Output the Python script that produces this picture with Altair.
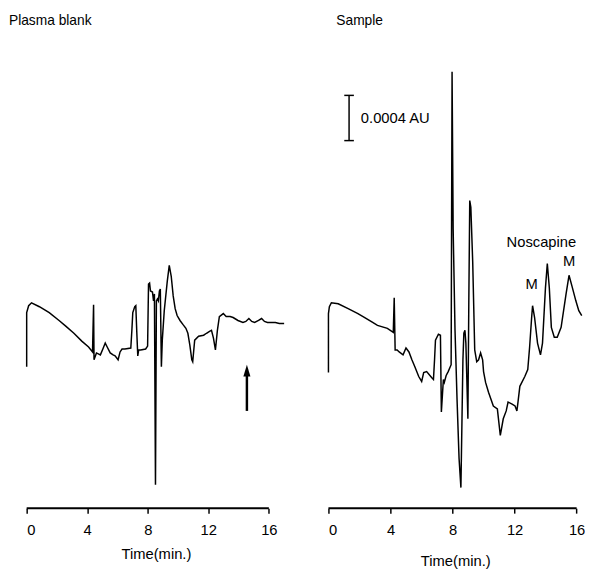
import altair as alt
import pandas as pd

FONT = "Liberation Sans"

# ---- Plasma blank chromatogram (time in min, detector response in arbitrary units) ----
blank_time = [0.00, 0.00, 0.13, 0.32, 0.84, 1.49, 2.14, 2.60, 3.12, 3.64, 4.09, 4.35, 4.42, 4.45,
              4.61, 4.87, 5.06, 5.19, 5.32, 5.52, 5.71, 5.84, 6.04, 6.17, 6.30, 6.49, 6.88, 6.95,
              7.01, 7.14, 7.21, 7.27, 7.34, 7.40, 7.53, 7.86, 7.99, 8.05, 8.12, 8.18, 8.31, 8.38,
              8.44, 8.51, 8.57, 8.64, 8.70, 8.77, 8.83, 8.90, 8.96, 9.09, 9.29, 9.42, 9.55, 9.68,
              9.81, 9.94, 10.13, 10.32, 10.52, 10.65, 10.78, 10.91, 10.97, 11.10, 11.36, 11.69,
              11.88, 12.08, 12.21, 12.34, 12.47, 12.60, 12.73, 12.99, 13.18, 13.44, 13.64, 13.96,
              14.29, 14.48, 14.68, 14.87, 15.06, 15.32, 15.52, 15.71, 15.91, 16.17, 16.43, 16.69,
              17.01]
blank_signal = [144, 199, 206, 209, 205, 199, 191, 185, 178, 170, 164, 159, 207, 151,
                158, 156, 163, 168, 164, 158, 156, 155, 151, 159, 162, 162, 163, 181,
                199, 205, 206, 181, 155, 161, 161, 162, 165, 228, 229, 221, 220, 211,
                218, 24, 211, 213, 211, 221, 223, 144, 171, 201, 231, 247, 236, 216,
                203, 196, 191, 187, 183, 178, 166, 151, 149, 171, 175, 176,
                178, 180, 181, 173, 161, 181, 195, 198, 195, 195, 194, 191,
                189, 190, 193, 190, 189, 191, 193, 190, 189, 189, 189, 188,
                188]

# ---- Sample chromatogram ----
sample_time = [0.00, 0.00, 0.06, 0.19, 0.63, 1.27, 1.90, 2.34, 2.85, 3.16, 3.80, 4.18, 4.24, 4.30,
               4.43, 4.56, 4.81, 5.00, 5.19, 5.38, 5.57, 5.82, 6.01, 6.14, 6.33, 6.65, 6.77, 6.84,
               6.90, 7.09, 7.22, 7.28, 7.41, 7.47, 7.59, 7.72, 7.91, 7.97, 8.04, 8.16, 8.29, 8.42,
               8.54, 8.61, 8.67, 8.73, 8.80, 8.86, 8.99, 9.05, 9.11, 9.18, 9.30, 9.43, 9.56, 9.68,
               9.81, 9.94, 10.00, 10.13, 10.32, 10.63, 10.89, 11.08, 11.27, 11.46, 11.58, 11.84,
               12.03, 12.15, 12.22, 12.34, 12.66, 12.85, 12.97, 13.10, 13.16, 13.29, 13.48, 13.67,
               13.80, 13.99, 14.11, 14.24, 14.37, 14.56, 14.75, 15.00, 15.32, 15.51, 15.70, 15.95,
               16.14, 16.33]
sample_signal = [138, 198, 205, 209, 208, 203, 198, 194, 189, 186, 183, 179, 214, 161,
                 161, 159, 156, 163, 159, 151, 144, 134, 129, 138, 139, 133, 131, 151,
                 171, 177, 176, 98, 131, 128, 135, 139, 146, 444, 284, 181, 111, 51,
                 21, 91, 151, 178, 181, 168, 91, 211, 313, 306, 251, 161, 149, 151,
                 158, 151, 139, 128, 118, 104, 101, 74, 91, 99, 108, 106,
                 104, 99, 108, 124, 134, 141, 164, 194, 206, 194, 168, 156,
                 168, 224, 249, 224, 184, 174, 174, 184, 218, 237, 226, 211,
                 201, 196]

tick_values = [0, 4, 8, 12, 16]
panel_titles = ["Plasma blank", "Sample"]
peak_labels = ["Noscapine", "M", "M"]
peak_label_time = [13.73, 13.10, 15.51]
peak_label_signal = [271, 228, 251]
scale_bar_label = "0.0004 AU"
scale_bar_time = 1.33
scale_bar_low, scale_bar_high = 374, 420
arrow_time = 14.55
arrow_low, arrow_high = 99, 140

Y_DOMAIN = [0, 484]
HEIGHT = 484


def x_enc(xmax, title_pad):
    return alt.X("t:Q",
                 scale=alt.Scale(domain=[0, xmax], nice=False, zero=False),
                 axis=alt.Axis(values=tick_values, title="Time(min.)", domain=False,
                               grid=False, format="d", titlePadding=title_pad))


def y_enc():
    return alt.Y("v:Q", scale=alt.Scale(domain=Y_DOMAIN, nice=False, zero=False), axis=None)


def panel(times, signals, xenc, width, title, title_dx):
    df = pd.DataFrame({"t": times, "v": signals, "i": list(range(len(times)))})
    line = alt.Chart(df).mark_line(color="black", strokeWidth=1.5, strokeJoin="miter").encode(
        x=xenc, y=y_enc(), order="i:Q")
    base_df = pd.DataFrame({"t": [tick_values[0]], "t2": [tick_values[-1]], "v": [0]})
    baseline = alt.Chart(base_df).mark_rule(color="black", strokeWidth=2).encode(
        x=xenc, x2="t2:Q", y=y_enc())
    ttl = alt.Chart(pd.DataFrame({"label": [title]})).mark_text(
        align="left", baseline="middle", fontSize=14, font=FONT, color="black").encode(
        x=alt.value(title_dx), y=alt.value(-12), text="label:N")
    return [line, baseline, ttl], width


# left panel
XL = x_enc(17.08, 9)
lp_layers, lw = panel(blank_time, blank_signal, XL, 263, panel_titles[0], -18)
arrow_df = pd.DataFrame({"t": [arrow_time], "v": [arrow_low], "v2": [arrow_high - 4]})
arrow_shaft = alt.Chart(arrow_df).mark_rule(color="black", strokeWidth=2.5).encode(
    x=XL, y=y_enc(), y2="v2:Q")
head_df = pd.DataFrame({"t": [arrow_time], "v": [arrow_high]})
arrow_head = alt.Chart(head_df).mark_point(
    shape="M0,-1L0.6,1L-0.6,1Z", filled=True, color="black", size=144, opacity=1).encode(
    x=XL, y=y_enc())
left = alt.layer(*lp_layers, arrow_shaft, arrow_head).properties(width=lw, height=HEIGHT)

# right panel
XR = x_enc(16.35, 16)
rp_layers, rw = panel(sample_time, sample_signal, XR, 258, panel_titles[1], 8)
bar_df = pd.DataFrame({"t": [scale_bar_time], "v": [scale_bar_low], "v2": [scale_bar_high]})
bar = alt.Chart(bar_df).mark_rule(color="black", strokeWidth=1.5).encode(
    x=XR, y=y_enc(), y2="v2:Q")
caps_df = pd.DataFrame({"t": [scale_bar_time - 0.31] * 2, "t2": [scale_bar_time + 0.31] * 2,
                        "v": [scale_bar_low, scale_bar_high]})
caps = alt.Chart(caps_df).mark_rule(color="black", strokeWidth=1.5).encode(
    x=XR, x2="t2:Q", y=y_enc())
bar_text = alt.Chart(pd.DataFrame({"t": [scale_bar_time + 0.76], "v": [(scale_bar_low + scale_bar_high) / 2],
                                   "label": [scale_bar_label]})).mark_text(
    align="left", baseline="middle", fontSize=15, font=FONT, color="black").encode(
    x=XR, y=y_enc(), text="label:N")
peaks_df = pd.DataFrame({"t": peak_label_time, "v": peak_label_signal, "label": peak_labels})
peak_text = alt.Chart(peaks_df).mark_text(
    align="center", baseline="middle", fontSize=15, font=FONT, color="black").encode(
    x=XR, y=y_enc(), text="label:N")
right = alt.layer(*rp_layers, bar, caps, bar_text, peak_text).properties(width=rw, height=HEIGHT)

chart = alt.hconcat(left, right, spacing=44, bounds="flush").properties(
    padding={"left": 1, "top": 1, "right": 0, "bottom": 0}
).configure_view(stroke=None).configure_axis(
    labelFont=FONT, titleFont=FONT, labelFontSize=15, titleFontSize=15,
    titleFontWeight="normal", labelColor="black", titleColor="black",
    tickColor="black", tickSize=5, tickWidth=1.5, labelPadding=10
)

chart.save("out.html", embed_options={"renderer": "svg", "actions": False})
